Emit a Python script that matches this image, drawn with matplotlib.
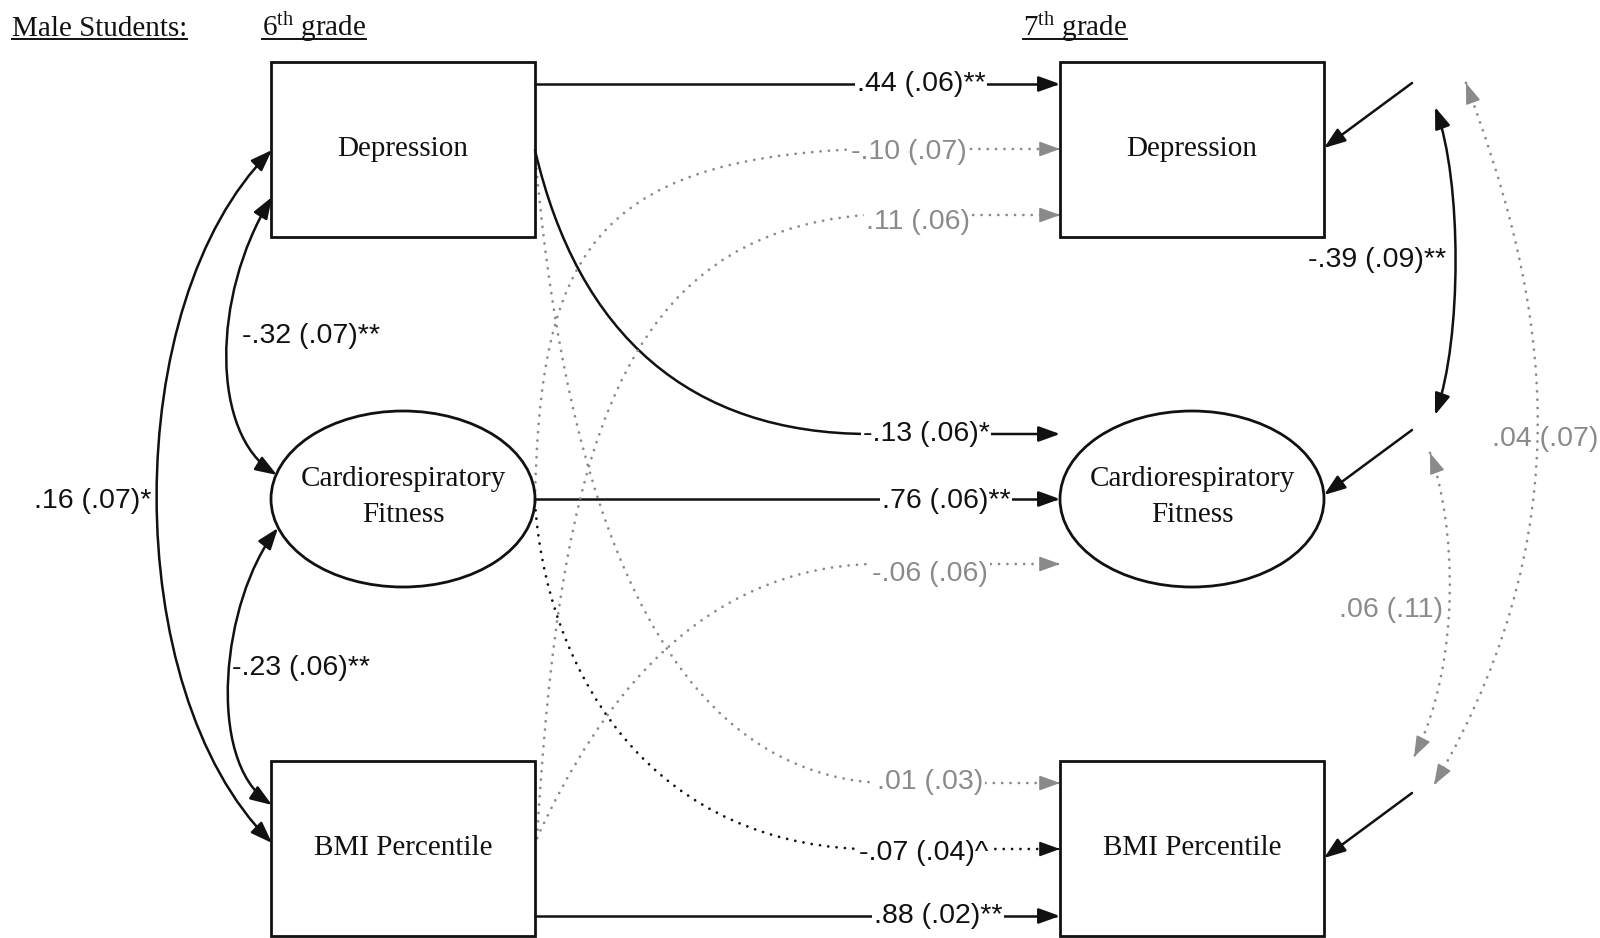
import numpy as np
import matplotlib
matplotlib.use("Agg")
import matplotlib.pyplot as plt
from matplotlib.patches import Rectangle, Ellipse, FancyArrowPatch, PathPatch
from matplotlib.path import Path

plt.rcParams["mathtext.fontset"] = "custom"
plt.rcParams["mathtext.rm"] = "Liberation Serif"

# --- chart content ---
group_label = "Male Students:"
grade_labels = [r"$\mathrm{6^{th}}$ grade", r"$\mathrm{7^{th}}$ grade"]
constructs = ["Depression", "Cardiorespiratory\nFitness", "BMI Percentile"]
shapes = ["box", "ellipse", "box"]

# autoregressive / cross-lagged paths 6th -> 7th grade
path_from = [0, 0, 0, 1, 1, 1, 2, 2, 2]
path_to = [0, 1, 2, 0, 1, 2, 0, 1, 2]
path_est = [".44", "-.13", ".01", "-.10", ".76", "-.07", ".11", "-.06", ".88"]
path_se = [".06", ".06", ".03", ".07", ".06", ".04", ".06", ".06", ".02"]
path_sig = ["**", "*", "", "", "**", "^", "", "", "**"]

# covariances within grade: pairs (a, b)
cov_pairs = [(0, 1), (1, 2), (0, 2)]
cov6_est = ["-.32", "-.23", ".16"]
cov6_se = [".07", ".06", ".07"]
cov6_sig = ["**", "**", "*"]
cov7_est = ["-.39", ".06", ".04"]
cov7_se = [".09", ".11", ".07"]
cov7_sig = ["**", "", ""]

# --- styling ---
SERIF = "Liberation Serif"
SANS = "Liberation Sans"
BLACK = "#111111"
GRAY = "#8a8a8a"
DOT = (0, (0.01, 3.0))
HEAD = ",head_length=1.3,head_width=0.47"

fig = plt.figure(figsize=(16, 9.38), dpi=100)
ax = fig.add_axes([0, 0, 1, 1])
ax.set_xlim(0, 1600)
ax.set_ylim(938, 0)
ax.axis("off")

col_x = [271, 1060]
box_w = 264
row_y = [150, 499, 849]
box_h = 175
text_dy = [-1, -2, -1]


def style_of(sig):
    if sig in ("**", "*"):
        return BLACK, "-"
    if sig == "^":
        return BLACK, DOT
    return GRAY, DOT


def head(frm, to, color):
    d = np.array(to, float) - np.array(frm, float)
    d /= np.hypot(*d)
    a = np.array(to) - 3 * d
    ax.add_patch(FancyArrowPatch(tuple(a), tuple(to), arrowstyle="-|>" + HEAD,
                                 mutation_scale=10, color=color, lw=1.0,
                                 shrinkA=0, shrinkB=0, zorder=3))


def arrow(verts, codes, color, ls, both=False):
    if ls == "-":
        style = ("<|-|>" if both else "-|>") + HEAD
        ax.add_patch(FancyArrowPatch(path=Path(verts, codes), arrowstyle=style,
                                     mutation_scale=10, color=color, lw=1.8,
                                     zorder=2))
        return
    ax.add_patch(PathPatch(Path(verts, codes), fill=False, ec=color, lw=2.0,
                           linestyle=ls, capstyle="round", zorder=2))
    head(verts[-2], verts[-1], color)
    if both:
        head(verts[1], verts[0], color)


def label(x, y, s, color, bg=True):
    kw = dict(ha="center", va="center", fontsize=20.5, family=SANS,
              color=color, zorder=4)
    if bg:
        kw["bbox"] = dict(facecolor="white", edgecolor="none", pad=1.5)
    ax.text(x, y, s, **kw)


# nodes
for c in range(2):
    for r in range(3):
        cx = col_x[c] + box_w / 2
        if shapes[r] == "box":
            ax.add_patch(Rectangle((col_x[c], row_y[r] - box_h / 2), box_w, box_h,
                                   fill=False, lw=2, ec=BLACK, zorder=3))
        else:
            ax.add_patch(Ellipse((cx, row_y[r]), box_w, 176, fill=False,
                                 lw=2, ec=BLACK, zorder=3))
        ax.text(cx, row_y[r] + text_dy[r], constructs[r], ha="center", va="center",
                fontsize=21, family=SERIF, color=BLACK, linespacing=1.45, zorder=4)

# headers
heads = []
heads.append(ax.text(12, 36, group_label, fontsize=21, family=SERIF, color=BLACK, va="baseline"))
heads.append(ax.text(262, 36, grade_labels[0], fontsize=21, family=SERIF, color=BLACK, va="baseline"))
heads.append(ax.text(1023, 36, grade_labels[1], fontsize=21, family=SERIF, color=BLACK, va="baseline"))
fig.canvas.draw()
inv = ax.transData.inverted()
for t in heads:
    bb = t.get_window_extent()
    x0 = inv.transform((bb.x0, 0))[0]
    x1 = inv.transform((bb.x1, 0))[0]
    ax.plot([x0, x1], [39.5, 39.5], color=BLACK, lw=1.4)

# path geometry: start, control1, control2, join, arrow y, label pos
right_x = col_x[0] + box_w
tip_x = col_x[1]
geom = [
    ((right_x, 84), None, None, None, 84, (921, 84)),
    ((right_x, 150), (578, 335), (690, 434), (870, 434), 434, (926, 434)),
    ((right_x, 152), (560, 450), (640, 770), (880, 783), 783, (930, 782)),
    ((right_x, 499), (540, 260), (590, 160), (860, 149), 149, (909, 152)),
    ((right_x, 499), None, None, None, 499, (946, 501)),
    ((right_x, 502), (545, 660), (640, 840), (860, 849), 849, (924, 853)),
    ((537, 838), (560, 450), (620, 235), (865, 215), 215, (918, 222)),
    ((537, 838), (600, 700), (700, 570), (870, 564), 564, (930, 574)),
    ((right_x, 916), None, None, None, 916, (938, 916)),
]

for i in range(len(path_est)):
    color, ls = style_of(path_sig[i])
    p0, c1, c2, j, ay, lp = geom[i]
    if c1 is None:
        verts = [p0, (tip_x, ay)]
        codes = [Path.MOVETO, Path.LINETO]
    else:
        verts = [p0, c1, c2, j, (tip_x, ay)]
        codes = [Path.MOVETO, Path.CURVE4, Path.CURVE4, Path.CURVE4, Path.LINETO]
    arrow(verts, codes, color, ls)
    label(lp[0], lp[1], f"{path_est[i]} ({path_se[i]}){path_sig[i]}", color)

# covariance curves
cov6_geom = [
    [(272, 197), (211, 297), (211, 434), (277, 475)],
    [(278, 528), (222, 600), (205, 760), (272, 805)],
    [(272, 150), (119, 303), (119, 690), (272, 843)],
]
cov6_lab = [(311, 336), (301, 668), (93, 501)]
cov7_geom = [
    [(1435, 107), (1462, 180), (1462, 340), (1435, 415)],
    [(1430, 453), (1455, 520), (1463, 660), (1414, 757)],
    [(1466, 83), (1535, 270), (1598, 505), (1434, 785)],
]
cov7_lab = [(1377, 260), (1391, 610), (1545, 439)]
ccodes = [Path.MOVETO, Path.CURVE4, Path.CURVE4, Path.CURVE4]

for k in range(len(cov_pairs)):
    color, ls = style_of(cov6_sig[k])
    arrow(cov6_geom[k], ccodes, color, ls, both=True)
    label(*cov6_lab[k], f"{cov6_est[k]} ({cov6_se[k]}){cov6_sig[k]}", color, bg=False)
    color, ls = style_of(cov7_sig[k])
    arrow(cov7_geom[k], ccodes, color, ls, both=True)
    label(*cov7_lab[k], f"{cov7_est[k]} ({cov7_se[k]}){cov7_sig[k]}", color, bg=False)

# residual arrows on 7th grade nodes
res_dy = [-2, -4, 9]
for r in range(3):
    tx = col_x[1] + box_w
    ty = row_y[r] + res_dy[r]
    arrow([(tx + 88, ty - 65), (tx, ty)], [Path.MOVETO, Path.LINETO], BLACK, "-")

fig.savefig("out.png", dpi=100)
